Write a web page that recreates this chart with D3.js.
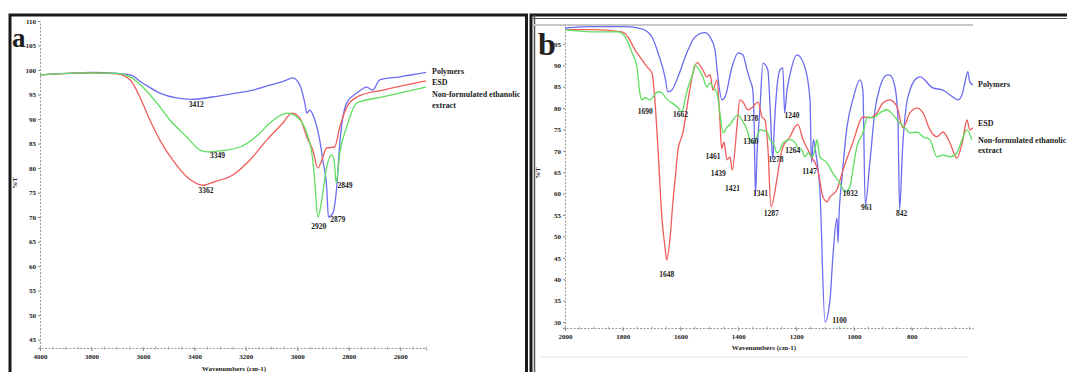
<!DOCTYPE html>
<html>
<head>
<meta charset="utf-8">
<script src="https://cdn.jsdelivr.net/npm/d3@7"></script>
<style>
  body { margin: 0; background: #fff; }
  svg { display: block; }
  text { font-family: "Liberation Serif", "DejaVu Serif", serif; font-weight: bold; fill: #222; }
</style>
</head>
<body>
<svg width="1067" height="372"></svg>
<script>
// ---- panel a : 4000-2500 cm-1 ----
const polymersA = [[4000,99.0],[3900,99.3],[3800,99.5],[3700,99.3],[3650,99.0],[3600,97.3],[3534,95.3],[3470,94.3],[3412,94.0],[3330,94.5],[3250,95.2],[3173,95.9],[3107,96.9],[3050,97.8],[3018,98.4],[2990,96.9],[2971,93.3],[2963,91.2],[2952,91.8],[2932,89.8],[2913,85.7],[2901,81.6],[2886,76.1],[2879,70.0],[2862,70.8],[2847,76.1],[2835,85.1],[2808,93.3],[2769,95.3],[2730,96.5],[2707,95.9],[2680,98.0],[2602,98.6],[2500,99.5]];
const esdA = [[4000,99.0],[3800,99.4],[3700,99.2],[3650,98.0],[3612,94.5],[3573,89.8],[3534,85.7],[3484,81.6],[3429,78.2],[3362,76.5],[3328,77.1],[3251,78.6],[3185,81.6],[3119,85.7],[3056,89.2],[3021,91.2],[2990,90.2],[2963,86.3],[2940,83.7],[2920,80.0],[2905,81.6],[2886,84.1],[2855,84.3],[2835,88.4],[2808,92.4],[2769,94.5],[2668,95.9],[2500,97.8]];
const extractA = [[4000,99.0],[3800,99.4],[3700,99.3],[3650,98.6],[3600,96.5],[3546,93.3],[3495,89.8],[3429,86.3],[3379,83.7],[3349,83.3],[3301,83.5],[3223,84.3],[3146,87.1],[3107,89.2],[3037,91.2],[3002,90.4],[2963,87.1],[2940,81.6],[2932,77.0],[2920,70.0],[2905,73.5],[2886,80.2],[2866,82.7],[2857,81.5],[2849,77.0],[2835,83.1],[2808,88.4],[2769,93.3],[2668,94.5],[2500,96.5]];
const xTicksA = [4000,3800,3600,3400,3200,3000,2800,2600];
const yTicksA = [45,50,55,60,65,70,75,80,85,90,95,100,105,110];
// peak labels: [text, wavenumber position, %T position]
const peaksA = [["3412",3393,92.5],["3349",3310,82.0],["3362",3355,75.0],["2920",2917,67.5],["2879",2843,69.0],["2849",2815,76.0]];

// ---- panel b : 2000-600 cm-1 ----
const polymersB = [[2000,98.7],[1907,99.0],[1792,99.0],[1734,98.5],[1699,96.6],[1678,92.9],[1654,87.3],[1644,83.8],[1630,84.2],[1609,87.3],[1574,93.6],[1550,96.6],[1516,97.6],[1498,96.6],[1481,93.6],[1471,87.3],[1457,81.9],[1446,82.6],[1422,89.6],[1401,92.9],[1384,92.4],[1370,88.9],[1360,86.6],[1350,84.2],[1345,75.0],[1341,59.7],[1335,70.0],[1325,80.2],[1315,90.5],[1298,88.9],[1290,80.0],[1281,67.9],[1276,75.0],[1270,81.9],[1256,88.9],[1246,89.4],[1240,78.9],[1232,84.0],[1225,86.6],[1197,92.4],[1170,89.6],[1152,81.9],[1147,67.2],[1140,72.6],[1132,69.5],[1118,60.9],[1100,30.0],[1083,35.1],[1073,45.2],[1059,54.3],[1055,48.5],[1052,54.3],[1042,63.2],[1024,75.6],[1004,81.9],[979,86.6],[969,84.2],[961,57.4],[945,67.2],[927,79.6],[910,84.9],[886,87.7],[876,87.7],[858,84.9],[848,77.9],[842,56.2],[832,70.2],[820,80.0],[806,84.2],[789,86.6],[772,87.3],[727,84.7],[692,84.2],[658,82.6],[640,81.9],[626,83.1],[616,85.9],[606,88.5],[599,86.1],[588,85.4]];
const esdB = [[2000,98.3],[1907,98.3],[1803,97.8],[1782,96.6],[1758,93.6],[1734,91.3],[1716,89.6],[1699,88.2],[1689,81.9],[1678,70.2],[1664,53.8],[1654,47.5],[1648,44.5],[1637,49.2],[1626,58.5],[1619,63.2],[1609,70.2],[1592,74.2],[1574,81.9],[1557,88.2],[1543,90.6],[1523,88.9],[1509,87.3],[1498,87.8],[1488,84.2],[1474,86.6],[1464,77.2],[1458,70.5],[1450,72.0],[1439,67.9],[1429,68.6],[1421,65.5],[1405,75.6],[1395,81.9],[1384,81.4],[1367,79.6],[1350,80.3],[1332,81.4],[1318,77.9],[1308,77.2],[1298,70.9],[1287,56.9],[1267,63.2],[1256,67.9],[1246,70.9],[1221,73.3],[1204,75.6],[1194,76.1],[1176,72.6],[1159,70.2],[1147,68.6],[1125,65.5],[1107,59.2],[1093,58.1],[1083,59.2],[1059,60.9],[1038,65.5],[1004,71.9],[969,77.9],[945,77.7],[920,78.9],[900,81.2],[876,81.9],[851,80.3],[831,75.4],[806,78.9],[782,80.0],[761,78.9],[737,74.9],[713,73.3],[692,74.4],[668,71.9],[644,68.3],[623,72.6],[609,77.2],[599,74.9],[588,75.4]];
const extractB = [[2000,98.3],[1907,97.8],[1817,97.8],[1792,96.6],[1768,92.9],[1751,89.6],[1741,83.5],[1734,81.9],[1723,82.4],[1706,81.9],[1696,82.6],[1678,83.8],[1664,83.5],[1654,82.6],[1644,81.9],[1630,81.2],[1612,80.3],[1595,79.1],[1585,81.9],[1574,84.9],[1561,87.3],[1550,90.1],[1543,89.6],[1523,87.3],[1509,84.9],[1498,85.9],[1488,84.9],[1474,83.5],[1464,78.9],[1453,74.2],[1439,75.6],[1429,76.1],[1419,77.2],[1401,78.4],[1388,77.2],[1370,74.9],[1360,72.6],[1350,71.9],[1336,73.3],[1325,74.9],[1301,74.4],[1291,72.6],[1280,71.9],[1266,69.5],[1256,70.2],[1246,71.9],[1221,72.6],[1204,71.9],[1194,70.7],[1180,70.2],[1170,68.6],[1159,69.5],[1145,68.6],[1135,70.2],[1128,72.6],[1118,68.6],[1093,67.2],[1073,64.8],[1049,62.5],[1031,60.4],[1014,61.6],[1004,65.5],[990,70.9],[969,74.2],[952,77.9],[934,77.7],[910,78.9],[886,79.6],[865,78.4],[841,76.5],[824,75.4],[806,74.2],[782,74.4],[761,73.3],[737,72.6],[713,68.6],[692,69.0],[668,68.6],[644,69.5],[626,72.6],[609,74.9],[592,72.6]];
const xTicksB = [2000,1800,1600,1400,1200,1000,800];
const yTicksB = [30,35,40,45,50,55,60,65,70,75,80,85,90,95];
const peaksB = [["1690",1722,78.5],["1662",1600,78.0],["1648",1648,40.5],["1461",1488,68.0],["1439",1470,64.2],["1421",1420,60.5],["1378",1357,77.0],["1360",1357,71.6],["1341",1323,59.5],["1287",1286,54.7],["1278",1270,67.5],["1264",1212,69.5],["1240",1214,77.7],["1147",1154,64.7],["1100",1050,29.7],["1032",1013,59.5],["961",956,56.2],["842",835,54.8]];

const seriesNames = ["Polymers", "ESD", "Non-formulated ethanolic", "extract"];
const colors = ["#6c6cf0", "#ef5c5c", "#5fdd5f"];

const svg = d3.select("svg");

// frames
svg.append("rect").attr("x", 10).attr("y", 15).attr("width", 516.5).attr("height", 400)
  .attr("fill", "none").attr("stroke", "#1a1a1a").attr("stroke-width", 3);
svg.append("rect").attr("x", 531).attr("y", 15).attr("width", 560).attr("height", 400)
  .attr("fill", "none").attr("stroke", "#1a1a1a").attr("stroke-width", 3);
svg.append("line").attr("x1", 534.5).attr("x2", 534.5).attr("y1", 15).attr("y2", 372)
  .attr("stroke", "#555").attr("stroke-width", 1.5);
svg.append("line").attr("x1", 531).attr("x2", 1067).attr("y1", 18.5).attr("y2", 18.5)
  .attr("stroke", "#555").attr("stroke-width", 1);
svg.append("line").attr("x1", 533).attr("x2", 973).attr("y1", 25).attr("y2", 25)
  .attr("stroke", "#c8c8c8").attr("stroke-width", 2);
svg.append("line").attr("x1", 540).attr("x2", 968).attr("y1", 357).attr("y2", 357)
  .attr("stroke", "#eeeeee").attr("stroke-width", 1.5);

function drawPanel(p) {
  const g = svg.append("g");
  const x = p.x, y = p.y;
  const x0 = x.range()[0];
  const yb = y.range()[0];

  // x axis
  const xa = g.append("g").attr("transform", `translate(0,${yb})`)
    .call(d3.axisBottom(x).tickValues(p.xTicks).tickSize(3).tickPadding(3).tickFormat(d3.format("d")));
  // y axis
  const ya = g.append("g").attr("transform", `translate(${x0},0)`)
    .call(d3.axisLeft(y).tickValues(p.yTicks).tickSize(2).tickPadding(2).tickFormat(d3.format("d")));
  [xa, ya].forEach(a => {
    a.select(".domain").attr("stroke", "#9a9a9a").attr("stroke-dasharray", "2,1.5");
    a.selectAll(".tick line").attr("stroke", "#888");
    a.selectAll(".tick text").attr("font-size", 7).attr("font-family", "Liberation Serif")
      .attr("font-weight", "bold").attr("fill", "#333");
  });

  // minor ticks
  const minorX = d3.range(x.domain()[0], x.domain()[1] - 1, -50);
  g.selectAll(".mx").data(minorX).enter().append("line")
    .attr("x1", d => x(d)).attr("x2", d => x(d)).attr("y1", yb - 1.5).attr("y2", yb + 1.5)
    .attr("stroke", "#999").attr("stroke-width", 0.8);

  // curves
  const path = d3.line().x(d => x(d[0])).y(d => y(d[1])).curve(d3.curveMonotoneX);
  p.series.forEach((s, i) => {
    g.append("path").datum(s).attr("d", path).attr("fill", "none")
      .attr("stroke", colors[i]).attr("stroke-width", 1.3).attr("stroke-linejoin", "round");
  });

  // peak labels
  g.selectAll(".pk").data(p.peaks).enter().append("text")
    .attr("x", d => x(d[1])).attr("y", d => y(d[2]))
    .attr("text-anchor", "middle").attr("font-size", 7.5).text(d => d[0]);

  // legend text
  g.selectAll(".lg").data(seriesNames).enter().append("text")
    .attr("x", p.legendX).attr("y", (d, i) => p.legendY[i])
    .attr("font-size", 8).text(d => d);

  // axis titles
  g.append("text").attr("x", p.titleX).attr("y", p.titleY).attr("text-anchor", "middle")
    .attr("font-size", 7).text("Wavenumbers (cm-1)");
  g.append("text").attr("transform", `translate(${p.pctX},${p.pctY}) rotate(-90)`)
    .attr("text-anchor", "middle").attr("font-size", 7).text("%T");

  // panel letter
  g.append("text").attr("x", p.letterX).attr("y", p.letterY)
    .attr("font-size", p.letterSize).text(p.letter);
}

drawPanel({
  x: d3.scaleLinear().domain([4000, 2500]).range([40, 426]),
  y: d3.scaleLinear().domain([43.3, 110]).range([348, 21]),
  xTicks: xTicksA, yTicks: yTicksA,
  series: [polymersA, esdA, extractA],
  peaks: peaksA,
  legendX: 432, legendY: [74, 85, 97, 108],
  titleX: 234, titleY: 371, pctX: 17, pctY: 183,
  letter: "a", letterX: 12, letterY: 47, letterSize: 27
});

drawPanel({
  x: d3.scaleLinear().domain([2000, 588]).range([565, 973]),
  y: d3.scaleLinear().domain([28.6, 99.4]).range([328, 25]),
  xTicks: xTicksB, yTicks: yTicksB,
  series: [polymersB, esdB, extractB],
  peaks: peaksB,
  legendX: 978, legendY: [87, 126, 143, 153],
  titleX: 764, titleY: 350, pctX: 540, pctY: 173,
  letter: "b", letterX: 538, letterY: 55, letterSize: 32
});
</script>
</body>
</html>
